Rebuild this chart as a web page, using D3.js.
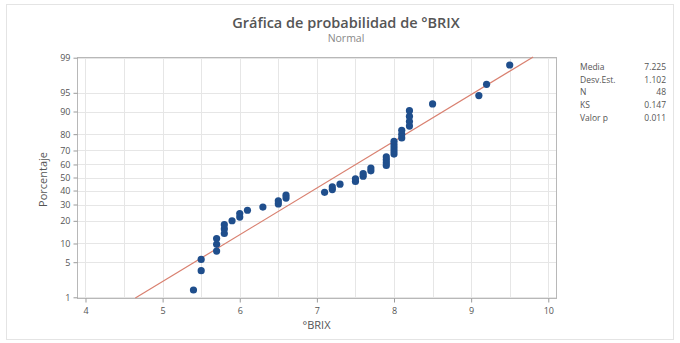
<!DOCTYPE html>
<html>
<head>
<meta charset="utf-8">
<script src="https://cdn.jsdelivr.net/npm/d3@7"></script>
<style>
  html, body { margin: 0; padding: 0; background: #fff; }
  svg { display: block; font-family: "Open Sans", "Noto Sans", sans-serif; }
</style>
</head>
<body>
<svg id="chart" width="680" height="343"></svg>
<script>
// °BRIX readings (48 samples), sorted
const brix = [
  5.4, 5.5, 5.5, 5.7, 5.7, 5.7, 5.8, 5.8, 5.8, 5.9,
  6.0, 6.0, 6.1, 6.3, 6.5, 6.5, 6.6, 6.6, 7.1, 7.2,
  7.2, 7.3, 7.5, 7.5, 7.6, 7.6, 7.7, 7.7, 7.9, 7.9,
  7.9, 7.9, 8.0, 8.0, 8.0, 8.0, 8.0, 8.1, 8.1, 8.1,
  8.2, 8.2, 8.2, 8.2, 8.5, 9.1, 9.2, 9.5
];
// Fitted normal parameters
const fitMean = 7.225;
const fitSd = 1.102;
// Axis ticks
const xTicks = [4, 5, 6, 7, 8, 9, 10];
const xGrid = [4, 4.5, 5, 5.5, 6, 6.5, 7, 7.5, 8, 8.5, 9, 9.5, 10];
const yTicks = [1, 5, 10, 20, 30, 40, 50, 60, 70, 80, 90, 95, 99];
// Summary table
const statLabels = ["Media", "Desv.Est.", "N", "KS", "Valor p"];
const statValues = ["7.225", "1.102", "48", "0.147", "0.011"];

// Inverse standard normal CDF (Acklam's rational approximation)
function qnorm(p) {
  const a = [-3.969683028665376e+01, 2.209460984245205e+02, -2.759285104469687e+02,
             1.383577518672690e+02, -3.066479806614716e+01, 2.506628277459239e+00];
  const b = [-5.447609879822406e+01, 1.615858368580409e+02, -1.556989798598866e+02,
             6.680131188771972e+01, -1.328068155288572e+01];
  const c = [-7.784894002430293e-03, -3.223964580411365e-01, -2.400758277161838e+00,
             -2.549732539343734e+00, 4.374664141464968e+00, 2.938163982698783e+00];
  const d = [7.784695709041462e-03, 3.224671290700398e-01, 2.445134137142996e+00,
             3.754408661907416e+00];
  const pl = 0.02425, ph = 1 - pl;
  let q, r;
  if (p < pl) {
    q = Math.sqrt(-2 * Math.log(p));
    return (((((c[0]*q+c[1])*q+c[2])*q+c[3])*q+c[4])*q+c[5]) /
           ((((d[0]*q+d[1])*q+d[2])*q+d[3])*q+1);
  }
  if (p <= ph) {
    q = p - 0.5; r = q * q;
    return (((((a[0]*r+a[1])*r+a[2])*r+a[3])*r+a[4])*r+a[5])*q /
           (((((b[0]*r+b[1])*r+b[2])*r+b[3])*r+b[4])*r+1);
  }
  q = Math.sqrt(-2 * Math.log(1 - p));
  return -(((((c[0]*q+c[1])*q+c[2])*q+c[3])*q+c[4])*q+c[5]) /
          ((((d[0]*q+d[1])*q+d[2])*q+d[3])*q+1);
}

const svg = d3.select("#chart");
const W = 680, H = 343;
const plot = { left: 77, right: 556, top: 57, bottom: 298 };

// Outer frame
svg.append("rect")
  .attr("x", 6.5).attr("y", 4.5).attr("width", W - 13).attr("height", H - 8)
  .attr("fill", "#fff").attr("stroke", "#e4e4e4").attr("stroke-width", 1);

const x = d3.scaleLinear().domain([3.89, 10.1]).range([plot.left, plot.right]);
// Probability axis: linear in normal quantile
const y = d3.scaleLinear().domain([-2.34, 2.34]).range([plot.bottom, plot.top]);
const yP = pct => y(qnorm(pct / 100));

// Gridlines
const grid = svg.append("g").attr("stroke", "#e6e6e6").attr("stroke-width", 1);
grid.selectAll("line.v").data(xGrid).join("line")
  .attr("class", "v")
  .attr("x1", d => Math.round(x(d)) + 0.5).attr("x2", d => Math.round(x(d)) + 0.5)
  .attr("y1", plot.top).attr("y2", plot.bottom);
grid.selectAll("line.h").data(yTicks).join("line")
  .attr("class", "h")
  .attr("x1", plot.left).attr("x2", plot.right)
  .attr("y1", d => Math.round(yP(d)) + 0.5).attr("y2", d => Math.round(yP(d)) + 0.5);

// Plot frame
svg.append("rect")
  .attr("x", plot.left + 0.5).attr("y", plot.top + 0.5)
  .attr("width", plot.right - plot.left).attr("height", plot.bottom - plot.top)
  .attr("fill", "none").attr("stroke", "#b8b8b8").attr("stroke-width", 1);

// X axis
const xAxis = svg.append("g")
  .attr("transform", `translate(0,${plot.bottom + 0.5})`)
  .call(d3.axisBottom(x).tickValues(xTicks).tickSize(4).tickPadding(5).tickFormat(d3.format("d")));
xAxis.select(".domain").remove();
xAxis.selectAll(".tick line").attr("stroke", "#9a9a9a");
xAxis.selectAll(".tick text").attr("fill", "#555").attr("font-size", 9)
  .attr("font-family", "Open Sans, Noto Sans, sans-serif");

// Y axis
const yAxis = svg.append("g")
  .attr("transform", `translate(${plot.left + 0.5},0)`)
  .call(d3.axisLeft(y).tickValues(yTicks.map(p => qnorm(p / 100)))
    .tickSize(4).tickPadding(3)
    .tickFormat((d, i) => yTicks[i]));
yAxis.select(".domain").remove();
yAxis.selectAll(".tick line").attr("stroke", "#9a9a9a");
yAxis.selectAll(".tick text").attr("fill", "#555").attr("font-size", 9)
  .attr("font-family", "Open Sans, Noto Sans, sans-serif");

// Fitted normal line
const zEnds = y.domain();
svg.append("line")
  .attr("x1", x(fitMean + fitSd * zEnds[0])).attr("y1", y(zEnds[0]))
  .attr("x2", x(fitMean + fitSd * zEnds[1])).attr("y2", y(zEnds[1]))
  .attr("stroke", "#d98070").attr("stroke-width", 1.2);

// Data points at median-rank plotting positions
const n = brix.length;
svg.append("g").selectAll("circle").data(brix).join("circle")
  .attr("cx", d => x(d))
  .attr("cy", (d, i) => y(qnorm((i + 1 - 0.3) / (n + 0.4))))
  .attr("r", 3.6)
  .attr("fill", "#1f4e8c");

// Titles
svg.append("text").attr("x", 346).attr("y", 28).attr("text-anchor", "middle")
  .attr("font-size", 14.5).attr("font-weight", 600).attr("fill", "#555")
  .text("Gráfica de probabilidad de °BRIX");
svg.append("text").attr("x", 346).attr("y", 42).attr("text-anchor", "middle")
  .attr("font-size", 10.5).attr("fill", "#888")
  .text("Normal");

// Axis titles
svg.append("text").attr("x", (plot.left + plot.right) / 2).attr("y", 329)
  .attr("text-anchor", "middle").attr("font-size", 11).attr("fill", "#555")
  .text("°BRIX");
svg.append("text")
  .attr("transform", `translate(47,${(plot.top + plot.bottom) / 2 + 2}) rotate(-90)`)
  .attr("text-anchor", "middle").attr("font-size", 11).attr("fill", "#555")
  .text("Porcentaje");

// Summary statistics
const stats = svg.append("g").attr("font-size", 8.5).attr("fill", "#555");
stats.selectAll("text.lab").data(statLabels).join("text")
  .attr("class", "lab")
  .attr("x", 580).attr("y", (d, i) => 70 + i * 12.7)
  .text(d => d);
stats.selectAll("text.val").data(statValues).join("text")
  .attr("class", "val")
  .attr("x", 666).attr("y", (d, i) => 70 + i * 12.7)
  .attr("text-anchor", "end")
  .text(d => d);
</script>
</body>
</html>
